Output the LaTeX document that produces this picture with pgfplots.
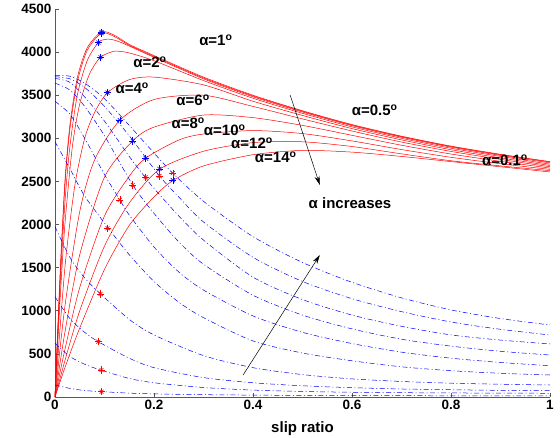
\documentclass[border=0pt]{standalone}
\usepackage{fontspec}
\setmainfont{Liberation Sans}
\usepackage{pgfplots}
\pgfplotsset{compat=1.18}
\usepackage{pgfplotstable}
\usetikzlibrary{arrows.meta}

% star markers: x, Fx (blue stars on red), Fy (red stars on blue)
\pgfplotstableread{
s      fx    fy
0.094  4232  61
0.094  4220  313
0.0875 4110  641
0.092  3940  1195
0.106  3530  1957
0.131  3210  2285
0.157  2970  2459
0.183  2770  2549
0.211  2645  2564
0.238  2515  2595
}\stars

\newcommand{\al}[1]{α=#1\textsuperscript{o}}

\begin{document}
\begin{tikzpicture}
\begin{axis}[
  scale only axis,
  width=495pt, height=388pt,
  xmin=0, xmax=1, ymin=0, ymax=4500,
  axis lines=left,
  axis line style={-, black!65},
  tick align=inside,
  major tick length=4pt,
  tick style={black!65, line width=0.6pt},
  xtick={0,0.2,0.4,0.6,0.8,1},
  xticklabels={0,0.2,0.4,0.6,0.8,1},
  ytick={0,500,...,4500},
  yticklabels={0,500,1000,1500,2000,2500,3000,3500,4000,4500},
  tick label style={font=\fontsize{13.5}{14}\selectfont\bfseries},
  xlabel={slip ratio},
  xlabel style={font=\fontsize{15}{16}\selectfont\bfseries, yshift=-5pt},
  every axis plot/.append style={line width=0.5pt},
  red curve/.style={red, smooth, tension=0.45, no marks},
  blue curve/.style={blue, smooth, tension=0.45, no marks,
    dash pattern=on 5pt off 2.5pt on 1pt off 2.5pt},
]
% longitudinal force, red
\addplot[red curve] coordinates {(0,0) (0.01,1400) (0.02,2500) (0.03,3150) (0.045,3700) (0.065,4050) (0.094,4235) (0.12,4195) (0.15,4090) (0.2,3960) (0.3,3710) (0.4,3500) (0.5,3320) (0.6,3160) (0.7,3025) (0.8,2910) (0.9,2815) (1,2730)};
\addplot[red curve] coordinates {(0,0) (0.01,1350) (0.02,2450) (0.03,3100) (0.045,3650) (0.065,4020) (0.094,4220) (0.12,4180) (0.15,4080) (0.2,3950) (0.3,3700) (0.4,3492) (0.5,3313) (0.6,3154) (0.7,3020) (0.8,2905) (0.9,2810) (1,2725)};
\addplot[red curve] coordinates {(0,0) (0.01,1250) (0.02,2250) (0.03,2900) (0.045,3500) (0.065,3900) (0.0875,4110) (0.105,4150) (0.13,4120) (0.2,3940) (0.3,3690) (0.4,3482) (0.5,3305) (0.6,3147) (0.7,3013) (0.8,2898) (0.9,2802) (1,2715)};
\addplot[red curve] coordinates {(0,0) (0.01,1100) (0.02,2000) (0.035,2900) (0.05,3400) (0.07,3750) (0.092,3940) (0.12,4010) (0.15,3990) (0.2,3900) (0.3,3670) (0.4,3465) (0.5,3290) (0.6,3133) (0.7,3000) (0.8,2885) (0.9,2790) (1,2700)};
\addplot[red curve] coordinates {(0,0) (0.02,1500) (0.04,2450) (0.06,3000) (0.08,3300) (0.106,3530) (0.15,3680) (0.2,3710) (0.3,3620) (0.4,3430) (0.5,3265) (0.6,3113) (0.7,2982) (0.8,2868) (0.9,2773) (1,2685)};
\addplot[red curve] coordinates {(0,0) (0.02,1050) (0.05,2150) (0.08,2750) (0.131,3210) (0.2,3450) (0.3,3500) (0.4,3370) (0.5,3225) (0.6,3085) (0.7,2957) (0.8,2848) (0.9,2756) (1,2670)};
\addplot[red curve] coordinates {(0,0) (0.02,750) (0.05,1650) (0.1,2550) (0.157,2970) (0.2,3130) (0.3,3270) (0.4,3240) (0.5,3150) (0.6,3035) (0.7,2920) (0.8,2818) (0.9,2733) (1,2655)};
\addplot[red curve] coordinates {(0,0) (0.02,550) (0.05,1270) (0.1,2100) (0.15,2560) (0.183,2770) (0.25,2980) (0.3,3050) (0.4,3090) (0.5,3055) (0.6,2970) (0.7,2870) (0.8,2780) (0.9,2705) (1,2640)};
\addplot[red curve] coordinates {(0,0) (0.02,420) (0.05,1000) (0.1,1750) (0.15,2250) (0.211,2640) (0.3,2850) (0.4,2950) (0.5,2960) (0.6,2905) (0.7,2820) (0.8,2740) (0.9,2680) (1,2625)};
\addplot[red curve] coordinates {(0,0) (0.02,340) (0.05,800) (0.1,1480) (0.15,1990) (0.2,2320) (0.238,2510) (0.3,2680) (0.4,2810) (0.5,2860) (0.6,2840) (0.7,2790) (0.8,2730) (0.9,2670) (1,2610)};
% lateral force, blue
\addplot[blue curve] coordinates {(0,3730) (0.03,3720) (0.06,3640) (0.1,3460) (0.15,3150) (0.2,2830) (0.238,2595) (0.3,2270) (0.4,1860) (0.5,1560) (0.6,1330) (0.7,1150) (0.8,1010) (0.9,910) (1,835)};
\addplot[blue curve] coordinates {(0,3715) (0.03,3690) (0.06,3590) (0.1,3370) (0.15,3030) (0.211,2564) (0.25,2320) (0.3,2030) (0.4,1620) (0.5,1340) (0.6,1140) (0.7,990) (0.8,870) (0.9,785) (1,719)};
\addplot[blue curve] coordinates {(0,3695) (0.03,3650) (0.06,3480) (0.1,3200) (0.15,2790) (0.182,2549) (0.2,2420) (0.25,2100) (0.3,1820) (0.4,1390) (0.5,1130) (0.6,950) (0.7,820) (0.8,720) (0.9,660) (1,615)};
\addplot[blue curve] coordinates {(0,3640) (0.03,3560) (0.06,3370) (0.1,3030) (0.157,2459) (0.2,2130) (0.25,1800) (0.3,1540) (0.4,1180) (0.5,950) (0.6,790) (0.7,670) (0.8,590) (0.9,530) (1,487)};
\addplot[blue curve] coordinates {(0,3430) (0.03,3280) (0.06,3000) (0.1,2580) (0.131,2285) (0.15,2110) (0.2,1740) (0.25,1450) (0.3,1240) (0.4,940) (0.5,750) (0.6,620) (0.7,520) (0.8,450) (0.9,400) (1,363)};
\addplot[blue curve] coordinates {(0,2960) (0.03,2650) (0.06,2330) (0.108,1957) (0.15,1650) (0.2,1340) (0.25,1100) (0.3,920) (0.4,650) (0.5,510) (0.6,420) (0.7,350) (0.8,305) (0.9,275) (1,255)};
\addplot[blue curve] coordinates {(0,1976) (0.03,1620) (0.06,1380) (0.092,1195) (0.15,900) (0.2,720) (0.3,480) (0.4,340) (0.5,260) (0.6,210) (0.7,180) (0.8,160) (0.9,148) (1,139)};
\addplot[blue curve] coordinates {(0,1163) (0.03,910) (0.06,750) (0.0875,641) (0.15,450) (0.2,340) (0.3,225) (0.4,165) (0.5,130) (0.6,108) (0.7,93) (0.8,84) (0.9,77) (1,73)};
\addplot[blue curve] coordinates {(0,623) (0.03,470) (0.06,380) (0.092,313) (0.15,215) (0.2,165) (0.3,110) (0.4,80) (0.5,64) (0.6,55) (0.7,50) (0.8,47) (0.9,45) (1,43)};
\addplot[blue curve] coordinates {(0,139) (0.03,100) (0.06,75) (0.0976,61) (0.15,45) (0.2,36) (0.3,27) (0.4,22) (0.5,18) (0.6,16) (0.7,15) (0.8,14) (0.9,13) (1,12)};
% star markers
\addplot[blue, only marks, mark=+, mark size=3.6pt, line width=0.6pt] table[x=s, y=fx] {\stars};
\addplot[blue, only marks, mark=x, mark size=2.8pt, line width=0.6pt] table[x=s, y=fx] {\stars};
\addplot[red, only marks, mark=+, mark size=3.6pt, line width=0.6pt] table[x=s, y=fy] {\stars};
\addplot[red, only marks, mark=x, mark size=2.8pt, line width=0.6pt] table[x=s, y=fy] {\stars};
% annotations
\begin{scope}[every node/.style={font=\fontsize{15}{16}\selectfont\bfseries, inner sep=0pt}]
\node at (axis cs:0.192,3886) {\al{2}};
\node at (axis cs:0.325,4141) {\al{1}};
\node at (axis cs:0.156,3585) {\al{4}};
\node at (axis cs:0.279,3445) {\al{6}};
\node at (axis cs:0.269,3179) {\al{8}};
\node at (axis cs:0.343,3097) {\al{10}};
\node at (axis cs:0.398,2947) {\al{12}};
\node at (axis cs:0.446,2784) {\al{14}};
\node at (axis cs:0.646,3329) {\al{0.5}};
\node at (axis cs:0.909,2749) {\al{0.1}};
\node at (axis cs:0.596,2250) {α increases};
\end{scope}
\draw[-{Stealth[length=9pt,width=5pt]}, line width=0.5pt] (axis cs:0.475,3503) -- (axis cs:0.535,2459);
\draw[-{Stealth[length=9pt,width=5pt]}, line width=0.5pt] (axis cs:0.38,255) -- (axis cs:0.535,1647);
\end{axis}
\pgfresetboundingbox
\path[use as bounding box] (-55pt,-41pt) rectangle (505pt,397pt);
\end{tikzpicture}
\end{document}
